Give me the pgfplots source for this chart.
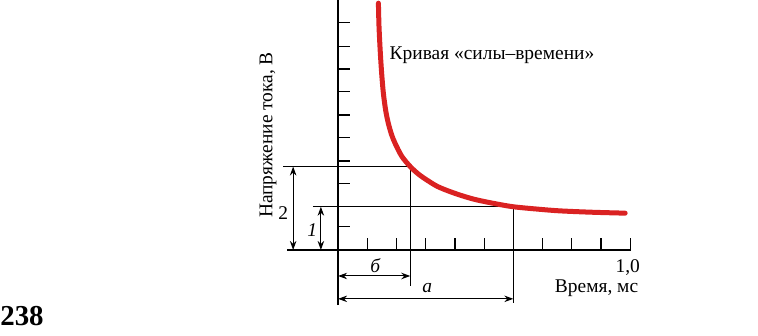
\documentclass[border=0pt]{standalone}
\usepackage{fontspec}
\setmainfont{Liberation Serif}
\usepackage{pgfplots}
\pgfplotsset{compat=1.18}
\usetikzlibrary{arrows.meta}
\definecolor{curvered}{RGB}{218,34,34}
\tikzset{lab/.style={font=\fontsize{19.5}{22}\selectfont, inner sep=0pt}}
\begin{document}
\begin{tikzpicture}[x=1bp,y=1bp]
\useasboundingbox (0,0) rectangle (758,335);
\begin{axis}[
  at={(287bp,30bp)}, anchor=south west,
  scale only axis, width=344bp, height=305bp,
  xmin=-0.175, xmax=1.003, ymin=-2.41, ymax=10.94,
  axis lines=middle,
  axis line style={-, line width=1.6bp, black},
  every inner x axis line/.append style={-},
  every inner y axis line/.append style={-},
  xtick={0.1,0.2,0.3,0.4,0.5,0.6,0.7,0.8,0.9,1.0},
  ytick={1.02,1.89,2.92,3.89,4.93,5.91,6.93,7.92,8.90,9.95},
  xticklabels={}, yticklabels={},
  major tick length=11.5bp,
  xtick style={yshift=5.75bp, line width=1.2bp, black},
  ytick style={xshift=5.75bp, line width=1.2bp, black},
  clip=false,
]
% guide lines
\addplot[black, line width=1bp] coordinates {(-0.188,3.65) (0.247,3.65)};
\addplot[black, line width=1bp] coordinates {(-0.086,1.89) (0.600,1.89)};
\addplot[black, line width=1bp] coordinates {(0.247,3.65) (0.247,-1.58)};
\addplot[black, line width=1bp] coordinates {(0.600,1.89) (0.600,-2.32)};
% dimension arrows
\addplot[black, line width=1bp, {Stealth[length=9bp,width=6.5bp]}-{Stealth[length=9bp,width=6.5bp]}] coordinates {(0,-1.14) (0.247,-1.14)};
\addplot[black, line width=1bp, {Stealth[length=9bp,width=6.5bp]}-{Stealth[length=9bp,width=6.5bp]}] coordinates {(0,-2.14) (0.600,-2.14)};
\addplot[black, line width=1bp, {Stealth[length=9bp,width=6.5bp]}-{Stealth[length=9bp,width=6.5bp]}] coordinates {(-0.154,0) (-0.154,3.65)};
\addplot[black, line width=1bp, {Stealth[length=9bp,width=6.5bp]}-{Stealth[length=9bp,width=6.5bp]}] coordinates {(-0.059,0) (-0.059,1.89)};
% strength-duration curve
\addplot[curvered, line width=5bp, smooth, tension=0.5, line cap=round] coordinates {
(0.138,10.80) (0.140,9.8) (0.144,8.75) (0.149,7.75) (0.155,6.86) (0.163,6.10) (0.172,5.54)
(0.183,5.05) (0.195,4.67) (0.218,4.10)
(0.247,3.65) (0.275,3.32) (0.304,3.06) (0.340,2.78) (0.384,2.55) (0.430,2.35) (0.475,2.19) (0.540,2.02) (0.600,1.89)
(0.680,1.79) (0.760,1.71) (0.870,1.65) (0.983,1.61)};
% labels
\node[lab] at (axis cs:0.527,8.53) {Кривая «силы–времени»};
\node[lab] at (axis cs:0.992,-0.79) {1,0};
\node[lab] at (axis cs:0.885,-1.66) {Время, мс};
\node[lab] at (axis cs:0.127,-0.70) {\itshape б};
\node[lab] at (axis cs:0.305,-1.66) {\itshape a};
\node[lab] at (axis cs:-0.188,1.62) {2};
\node[lab] at (axis cs:-0.089,0.875) {\itshape 1};
\node[lab, rotate=90] at (axis cs:-0.24,5.03) {Напряжение тока, В};
\end{axis}
\node[font=\bfseries\fontsize{29}{30}\selectfont] at (22,19) {238};
\end{tikzpicture}
\end{document}
